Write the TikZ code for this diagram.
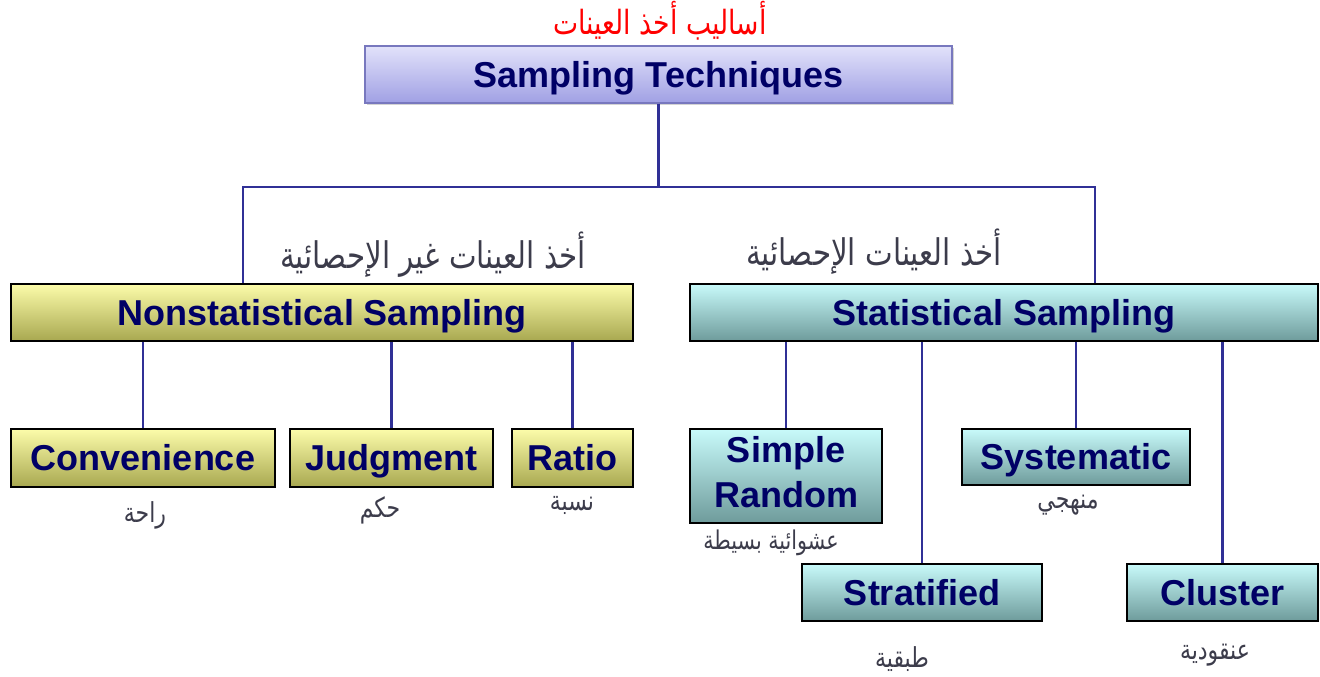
\documentclass[tikz,border=0pt]{standalone}
\usepackage{fontspec}
\setmainfont{Liberation Sans}
\newfontfamily\arabicfont[Script=Arabic]{DejaVu Sans}
\TeXXeTstate=1
\usetikzlibrary{shadows}
\definecolor{navytext}{RGB}{0,0,102}
\definecolor{linkblue}{RGB}{48,48,150}
\definecolor{labelgray}{RGB}{60,60,75}
\definecolor{topborder}{RGB}{120,120,190}
% Arabic caption, set a little taller than the font's natural shape
\newcommand{\artext}[1]{\scalebox{1}[1.25]{\beginR #1\endR}}
\tikzset{
  box/.style={draw=black, line width=1.5pt, inner sep=0pt, align=center,
    font=\fontsize{27}{33.5}\selectfont\bfseries, text=navytext,
    text height=19.4pt, text depth=0pt},
  topbox/.style={box, draw=topborder, line width=1pt,
    top color={rgb,255:red,226;green,226;blue,250},
    bottom color={rgb,255:red,160;green,160;blue,228},
    drop shadow={shadow xshift=1.5pt, shadow yshift=-1.5pt, opacity=0.35}},
  ybox/.style={box,
    top color={rgb,255:red,252;green,252;blue,170},
    bottom color={rgb,255:red,168;green,168;blue,80}},
  cbox/.style={box,
    top color={rgb,255:red,200;green,250;blue,250},
    bottom color={rgb,255:red,110;green,155;blue,155}},
  conn/.style={draw=linkblue, line width=2.2pt},
  arlabel/.style={font=\arabicfont\fontsize{16.5}{20}\selectfont, text=labelgray, inner sep=0pt},
  arhead/.style={arlabel, font=\arabicfont\fontsize{22}{26}\selectfont},
}
\begin{document}
\begin{tikzpicture}[x=0.75pt, y=-0.75pt]
  \useasboundingbox (0,0) rectangle (1320,677);

  % category boxes
  \node[topbox, minimum width=440.25pt, minimum height=42.75pt] (top) at (658.5,74.5) {Sampling Techniques};
  \node[ybox, minimum width=466.5pt, minimum height=42.75pt] (nonstat) at (322,312.5) {Nonstatistical Sampling};
  \node[cbox, minimum width=471pt, minimum height=42.75pt] (stat) at (1004,312.5) {Statistical Sampling};

  % nonstatistical methods
  \node[ybox, minimum width=198pt, minimum height=43.5pt] (conv) at (143,458) {Convenience};
  \node[ybox, minimum width=152.25pt, minimum height=43.5pt] (judg) at (391.5,458) {Judgment};
  \node[ybox, minimum width=90.75pt, minimum height=43.5pt] (ratio) at (572.5,458) {Ratio};

  % statistical methods
  \node[cbox, minimum width=144pt, minimum height=70.5pt, text height=, text depth=6pt] (simple) at (786,476) {Simple\\Random};
  \node[cbox, minimum width=171pt, minimum height=42pt] (syst) at (1076,457) {Systematic};
  \node[cbox, minimum width=180pt, minimum height=42.75pt] (strat) at (922,592.5) {Stratified};
  \node[cbox, minimum width=143.25pt, minimum height=42.75pt] (clust) at (1222.5,592.5) {Cluster};

  % tree connectors
  \coordinate (busL) at (243,187);
  \coordinate (busR) at (1095,187);
  \draw[conn] (top.south) -- (top.south |- busL);
  \draw[conn] (nonstat.north -| busL) -- (busL) -- (busR) -- (stat.north -| busR);
  \draw[conn] (conv.north) -- (conv.north |- nonstat.south);
  \draw[conn] (judg.north) -- (judg.north |- nonstat.south);
  \draw[conn] (ratio.north) -- (ratio.north |- nonstat.south);
  \draw[conn] (simple.north) -- (simple.north |- stat.south);
  \draw[conn] (strat.north) -- (strat.north |- stat.south);
  \draw[conn] (syst.north) -- (syst.north |- stat.south);
  \draw[conn] (clust.north) -- (clust.north |- stat.south);

  % Arabic captions
  \node[arhead, font=\arabicfont\fontsize{20}{24}\selectfont, text=red] (ttl) at (660,21) {\artext{أساليب أخذ العينات}};
  \node[arhead] (lnon) at (433,255) {\artext{أخذ العينات غير الإحصائية}};
  \node[arhead] (lstat) at (874,252) {\artext{أخذ العينات الإحصائية}};
  \node[arlabel] (lconv) at (145,515) {\artext{راحة}};
  \node[arlabel] (ljudg) at (380,510) {\artext{حكم}};
  \node[arlabel] (lratio) at (572,505) {\artext{نسبة}};
  \node[arlabel, font=\arabicfont\fontsize{15.5}{19}\selectfont] (lsimple) at (771,543) {\artext{عشوائية بسيطة}};
  \node[arlabel] (lsyst) at (1068,505) {\artext{منهجي}};
  \node[arlabel] (lstrat) at (902,659) {\artext{طبقية}};
  \node[arlabel] (lclust) at (1215,655) {\artext{عنقودية}};
\end{tikzpicture}
\end{document}
